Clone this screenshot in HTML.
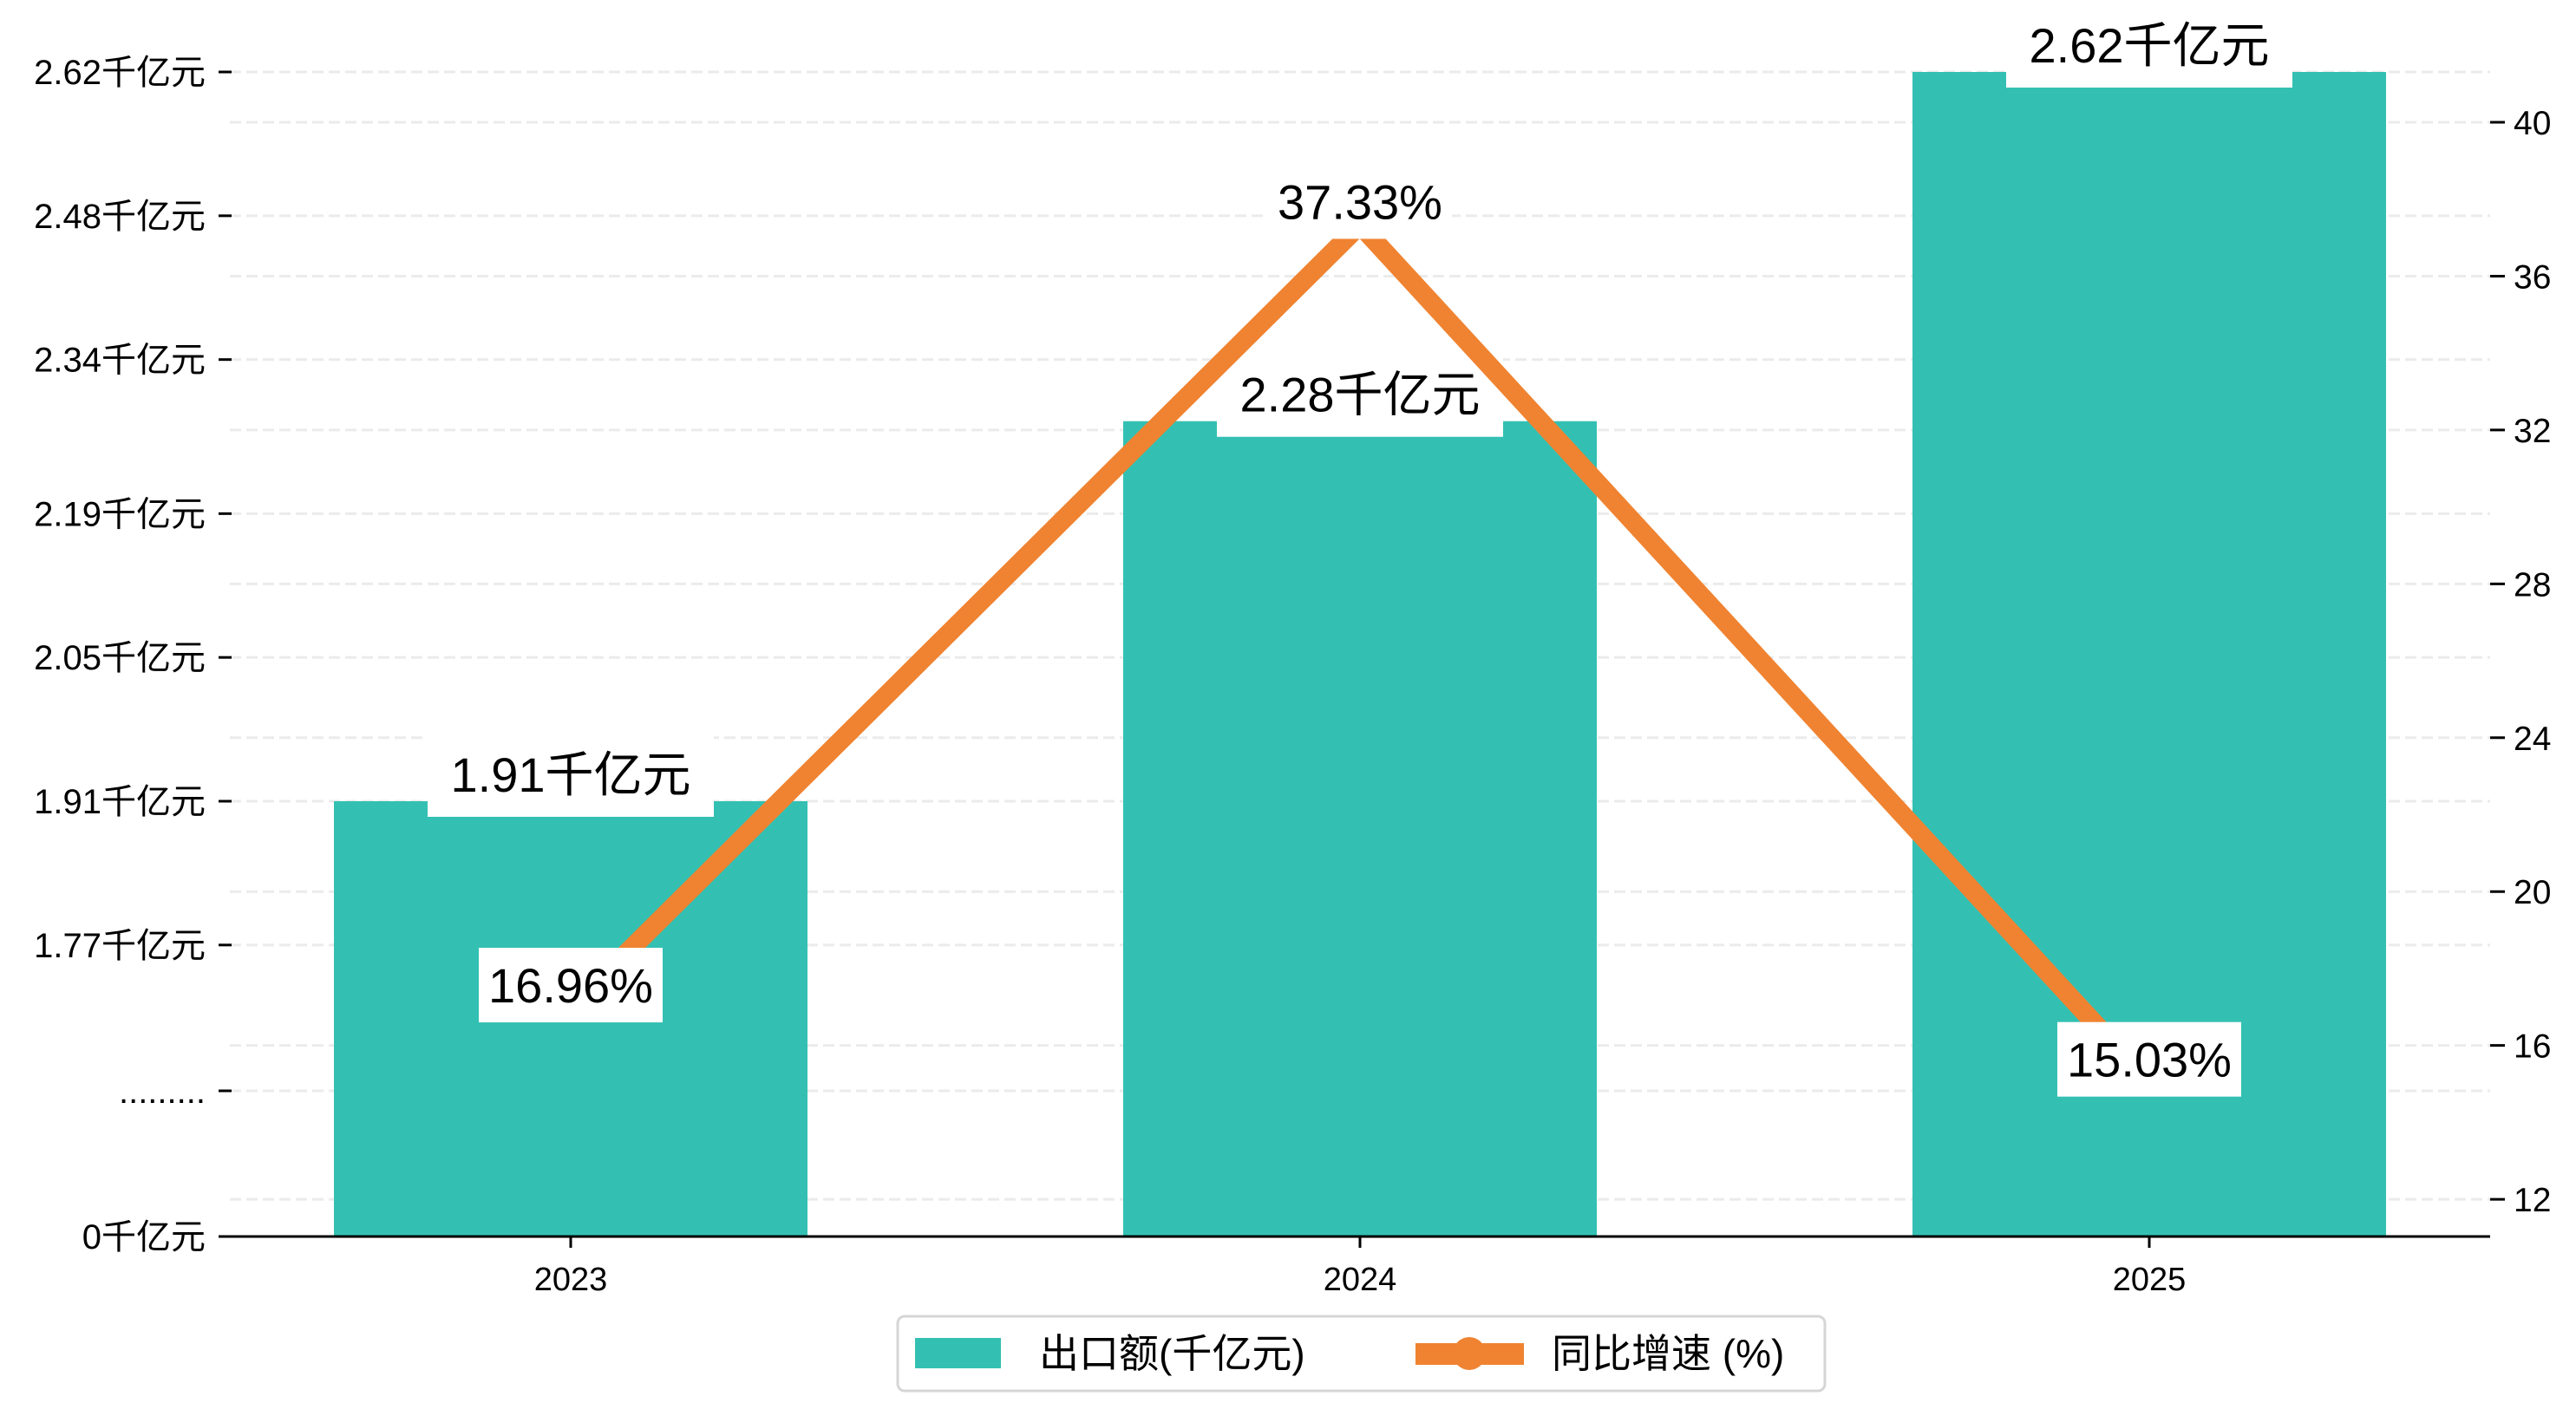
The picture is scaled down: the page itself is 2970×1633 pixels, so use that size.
<!DOCTYPE html>
<html><head><meta charset="utf-8"><style>
html,body{margin:0;padding:0;background:#fff;}
svg{display:block;font-family:"WenQuanYi Zen Hei","Liberation Sans","Noto Sans CJK SC",sans-serif;}
</style></head><body>
<svg id="chart" width="2970" height="1633" viewBox="0 0 2970 1633">
<g id="grid"></g>
<g id="bars"></g>
<g id="barlabels"></g>
<g id="line"></g>
<g id="labels"></g>
<g id="axes"></g>
<g id="legend">
  <rect x="1035" y="1518" width="1069" height="86" rx="8" fill="#fff" stroke="#d6d6d6" stroke-width="3"/>
  <rect x="1055" y="1543" width="99" height="35" fill="#33c0b3"/>
  <text x="1198" y="1577" font-size="46" fill="#000">出口额(千亿元)</text>
  <rect x="1632" y="1549" width="125" height="25" fill="#ef8331"/>
  <circle cx="1694" cy="1561" r="19" fill="#ef8331"/>
  <text x="1789" y="1577" font-size="46" fill="#000">同比增速 (%)</text>
</g>
</svg>
<script>
const categories = ["2023", "2024", "2025"];
const exportValues = [1.91, 2.28, 2.62];
const growthValues = [16.96, 37.33, 15.03];
const leftTicks = [2.62, 2.48, 2.34, 2.19, 2.05, 1.91, 1.77];
const leftTickLabels = ["2.62千亿元", "2.48千亿元", "2.34千亿元", "2.19千亿元", "2.05千亿元", "1.91千亿元", "1.77千亿元"];
const rightTicks = [40, 36, 32, 28, 24, 20, 16, 12];

const NS = "http://www.w3.org/2000/svg";
const X0 = 265, X1 = 2871, BASE = 1426;
function xC(i){ return 658 + i * 910; }
function yL(v){ return 924 - (v - 1.91) * 1184.5; }
function yR(v){ return 141 + (40 - v) * 44.36; }
function mk(tag, attrs, parent){
  const e = document.createElementNS(NS, tag);
  for (const k in attrs) e.setAttribute(k, attrs[k]);
  parent.appendChild(e);
  return e;
}
const grid = document.getElementById('grid');
const bars = document.getElementById('bars');
const barlabels = document.getElementById('barlabels');
const line = document.getElementById('line');
const labels = document.getElementById('labels');
const axes = document.getElementById('axes');

const gridYs = leftTicks.map(yL).concat([1258]).concat(rightTicks.map(yR));
gridYs.forEach(function(y){
  const g = mk('line', {x1:X0, x2:X1, y1:y, y2:y, stroke:'#ebebeb', 'stroke-width':3, 'stroke-dasharray':'13 6'}, grid);
  
  
});

exportValues.forEach(function(v, i){
  const top = yL(v);
  const r = mk('rect', {x:xC(i) - 273, y:top, width:546, height:BASE - top, fill:'#33c0b3'}, bars);
  
  
});

exportValues.forEach(function(v, i){
  const top = yL(v);
  const bg = mk('rect', {x:xC(i) - 165, y:top - 78, width:330, height:96, fill:'#fff'}, barlabels);
  
  
  const t = mk('text', {x:xC(i), y:top - 11, 'text-anchor':'middle', 'font-size':56, fill:'#000'}, barlabels);
  t.textContent = v.toFixed(2) + '千亿元';
  
  
});

const pts = growthValues.map(function(v, i){ return xC(i) + ',' + yR(v); }).join(' ');
const pl = mk('polyline', {points:pts, fill:'none', stroke:'#ef8331', 'stroke-width':22, 'stroke-linejoin':'miter'}, line);



growthValues.forEach(function(v, i){
  const y = yR(v);
  const bg = mk('rect', {x:xC(i) - 106, y:y - 70, width:212, height:86, fill:'#fff'}, labels);
  
  
  const t = mk('text', {x:xC(i), y:y - 7, 'text-anchor':'middle', 'font-size':56, fill:'#000'}, labels);
  t.textContent = v.toFixed(2) + '%';
  
  
});

const xa = mk('line', {x1:X0 - 10, x2:X1, y1:BASE, y2:BASE, stroke:'#000', 'stroke-width':3}, axes);


categories.forEach(function(c, i){
  const tk = mk('line', {x1:xC(i), x2:xC(i), y1:BASE, y2:BASE + 13, stroke:'#000', 'stroke-width':3}, axes);
  
  
  const t = mk('text', {x:xC(i), y:BASE + 62, 'text-anchor':'middle', 'font-size':38, fill:'#000'}, axes);
  t.textContent = c;
  
  
});

function leftTick(y, label){
  const tk = mk('line', {x1:252, x2:267, y1:y, y2:y, stroke:'#000', 'stroke-width':3}, axes);
  
  
  const t = mk('text', {x:237, y:y + 14, 'text-anchor':'end', 'font-size':40, fill:'#000'}, axes);
  t.textContent = label;
  
  
}
leftTicks.forEach(function(v, i){ leftTick(yL(v), leftTickLabels[i]); });
leftTick(1258, '.........');
leftTick(BASE, '0千亿元');

rightTicks.forEach(function(v){
  const y = yR(v);
  const tk = mk('line', {x1:2871, x2:2888, y1:y, y2:y, stroke:'#000', 'stroke-width':3}, axes);
  
  
  const t = mk('text', {x:2898, y:y + 14, 'text-anchor':'start', 'font-size':39, fill:'#000'}, axes);
  t.textContent = String(v);
  
  
});
</script>
</body></html>
